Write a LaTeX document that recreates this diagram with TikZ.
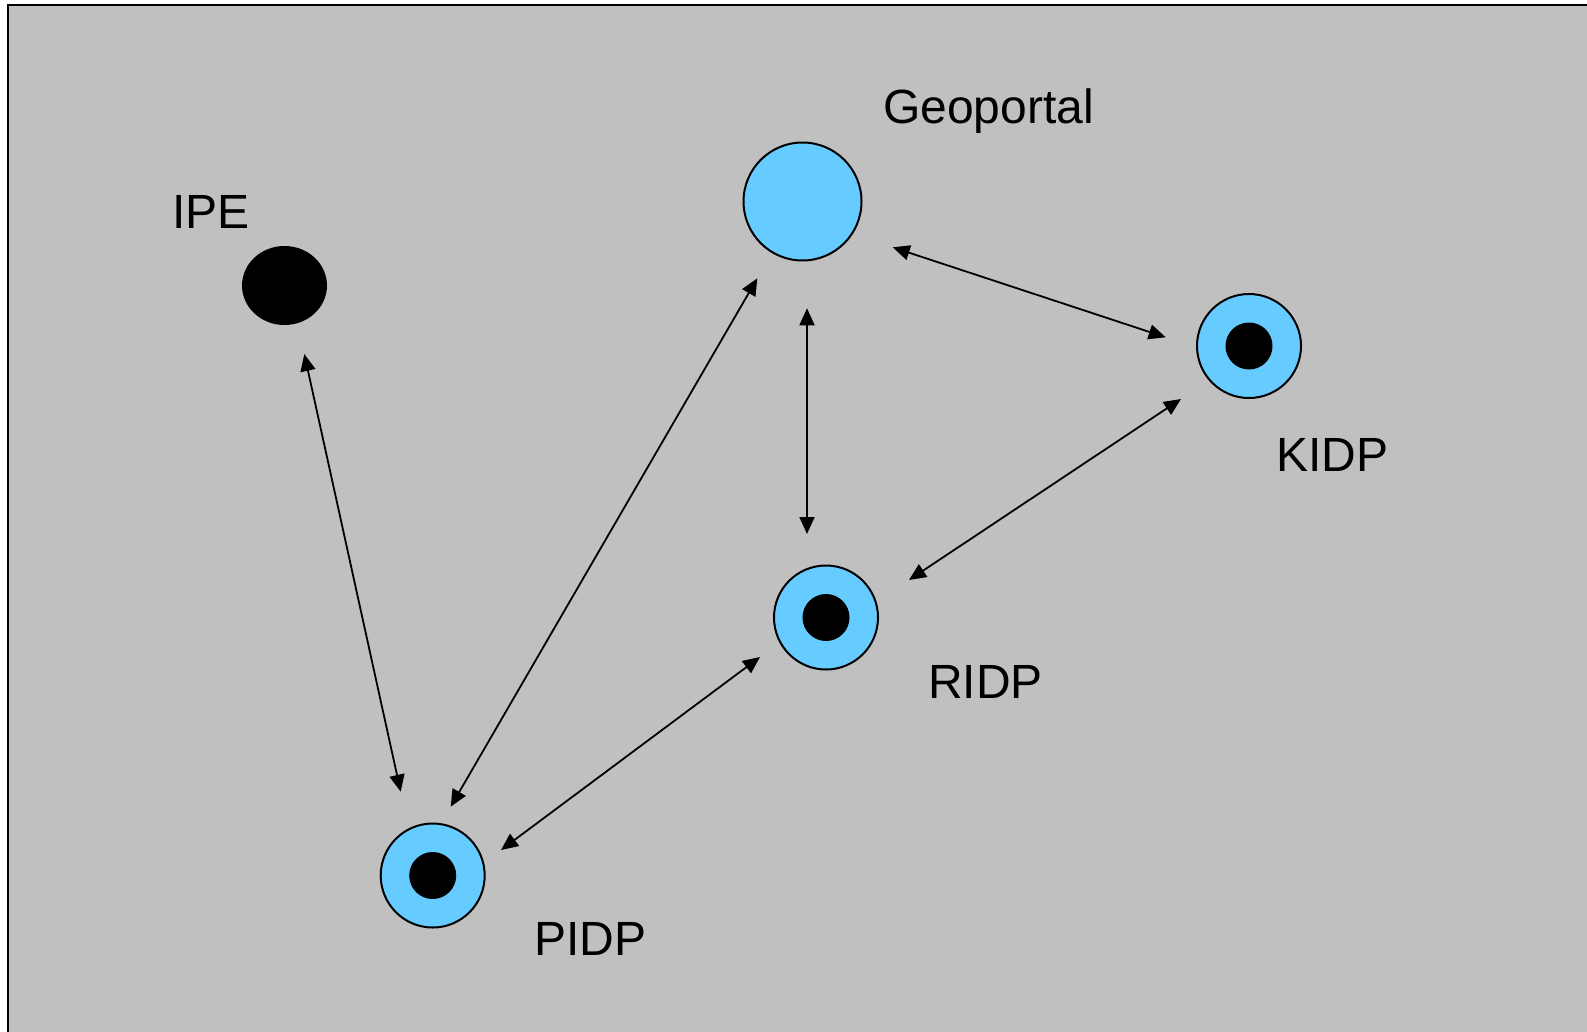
\documentclass[tikz,border=0pt]{standalone}
\usepackage{fontspec}
\setmainfont{Liberation Sans}
\usetikzlibrary{arrows.meta,shapes.geometric}
\definecolor{bg}{HTML}{C0C0C0}
\definecolor{nodeblue}{HTML}{66CCFF}
\begin{document}
\begin{tikzpicture}[x=1pt,y=-1pt,
  lbl/.style={anchor=base west, inner sep=0pt, font=\fontsize{48}{56}\selectfont},
  outer/.style={circle, draw=black, line width=2pt, fill=nodeblue, minimum size=104pt, inner sep=0pt},
  core/.style={circle, fill=black, minimum size=47pt, inner sep=0pt},
  link/.style={line width=1.8pt, {Triangle[length=17pt,width=15pt]}-{Triangle[length=17pt,width=15pt]}}]
\useasboundingbox (0,0) rectangle (1587,1031);
\fill[white] (0,0) rectangle (1587,1031);
\draw[fill=bg, line width=2pt] (8,5) rectangle (1600,1045);
% nodes
\node[ellipse, fill=black, minimum width=85pt, minimum height=79pt, inner sep=0pt] (ipe) at (284.5,285.5) {};
\node[circle, draw=black, line width=2pt, fill=nodeblue, minimum size=118pt, inner sep=0pt] (geo) at (802.5,201.5) {};
\node[outer] (kidp) at (1249,346) {};
\node[core] (kidpc) at (kidp.center) {};
\node[outer] (ridp) at (826,617.5) {};
\node[core] (ridpc) at (ridp.center) {};
\node[outer] (pidp) at (432.7,875.5) {};
\node[core] (pidpc) at (pidp.center) {};
% labels
\node[lbl] (lipe) at (172,228) {IPE};
\node[lbl] (lgeo) at (883,123) {Geoportal};
\node[lbl] (lkidp) at (1276,471) {KIDP};
\node[lbl] (lridp) at (928,698) {RIDP};
\node[lbl] (lpidp) at (534,955) {PIDP};
% connector ends
\coordinate (a1) at (304.3,354);
\coordinate (a2) at (400.7,791.7);
\coordinate (b1) at (757.3,278.3);
\coordinate (b2) at (450.7,806.7);
\coordinate (c1) at (807,308.3);
\coordinate (c2) at (807,534);
\coordinate (d1) at (892.7,247.3);
\coordinate (d2) at (1165.7,337.3);
\coordinate (e1) at (1181,399);
\coordinate (e2) at (909,580);
\coordinate (f1) at (760,657);
\coordinate (f2) at (501,850);
\draw[link] (a1) -- (a2);
\draw[link] (b1) -- (b2);
\draw[link] (c1) -- (c2);
\draw[link] (d1) -- (d2);
\draw[link] (e1) -- (e2);
\draw[link] (f1) -- (f2);
\end{tikzpicture}
\end{document}
